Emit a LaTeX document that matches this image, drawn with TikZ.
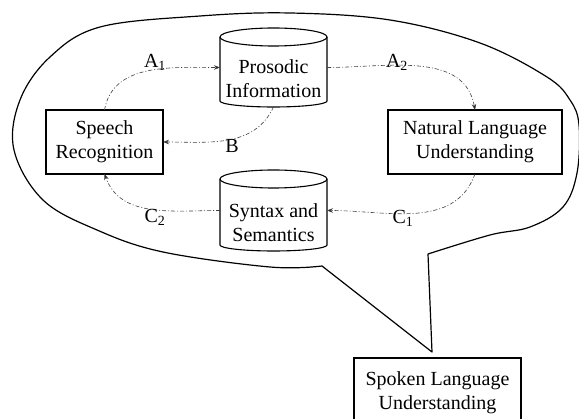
\documentclass[tikz,border=0pt]{standalone}
\usepackage{fontspec}
\setmainfont{Liberation Serif}
\usetikzlibrary{arrows.meta}
\tikzset{
  box/.style={draw, line width=1.1pt, inner sep=0pt, outer sep=0pt, align=center, font=\fontsize{20}{24}\selectfont},
  body/.style={inner sep=0pt, outer sep=0pt, minimum width=107pt, draw=none},
  txt/.style={align=center, inner sep=0pt, font=\fontsize{20}{24}\selectfont},
  cylline/.style={line width=1.1pt},
  bubble/.style={line width=1.2pt, line join=round},
  flow/.style={draw=black!75, line width=0.6pt, dash pattern=on 4pt off 2pt on 1pt off 2pt,
    -{Stealth[length=6pt,width=4.5pt,fill=black]}},
  lab/.style={inner sep=0pt, font=\fontsize{20}{24}\selectfont}
}
\newcommand\cylshape[1]{%
  \draw[cylline] ([yshift=-9pt]#1.north) ellipse [x radius=53.5pt, y radius=9pt];
  \draw[cylline] ([yshift=-9pt]#1.north west) -- ([yshift=6pt]#1.south west)
     arc[start angle=180, end angle=360, x radius=53.5pt, y radius=6pt]
     -- ([yshift=-9pt]#1.north east);
}
\begin{document}
\begin{tikzpicture}[x=1pt, y=-1pt]
\useasboundingbox (0,0) rectangle (579,419);
% speech bubble
\draw[bubble] plot[smooth, tension=0.6] coordinates {(322,266) (270,267) (163,252) (97,230) (43,200) (14,150) (20,100) (50,57) (100,27) (200,16) (290,13) (390,20) (480,43) (547,77) (570,100) (579,125) (577,173) (563,207) (530,227) (490,235) (428,254)} -- (432,352) -- cycle;

% boxes
\node[box, minimum width=117pt, minimum height=64pt] (sr) at (104.5,142) {Speech\\Recognition};
\node[box, minimum width=174pt, minimum height=64pt] (nlu) at (475,142) {Natural Language\\Understanding};
\node[box, minimum width=167pt, minimum height=69pt] (slu) at (437.5,392.5) {Spoken Language\\Understanding};

% cylinders
\node[body, minimum height=79pt] (pi) at (273.5,67.5) {};
\cylshape{pi}
\node[txt] (pitext) at (273.5,79) {Prosodic\\Information};
\node[body, minimum height=81pt] (sy) at (273.5,210.5) {};
\cylshape{sy}
\node[txt] (sytext) at (273.5,223) {Syntax and\\Semantics};

% flows
\draw[flow] (sr.north) to[out=80, in=180] (pi.west);
\draw[flow] (pi.east) to[out=0, in=100] (nlu.north);
\draw[flow] (pi.south) to[out=-115, in=0] (sr.east);
\draw[flow] (nlu.south) to[out=-110, in=0] (sy.east);
\draw[flow] (sy.west) to[out=180, in=-70] (sr.south);

% labels
\node[lab] (la1) at (155,62) {A\textsubscript{1}};
\node[lab] (la2) at (397,62) {A\textsubscript{2}};
\node[lab] (lb) at (232,146) {B};
\node[lab] (lc1) at (403,218) {C\textsubscript{1}};
\node[lab] (lc2) at (155,217) {C\textsubscript{2}};
\end{tikzpicture}
\end{document}
